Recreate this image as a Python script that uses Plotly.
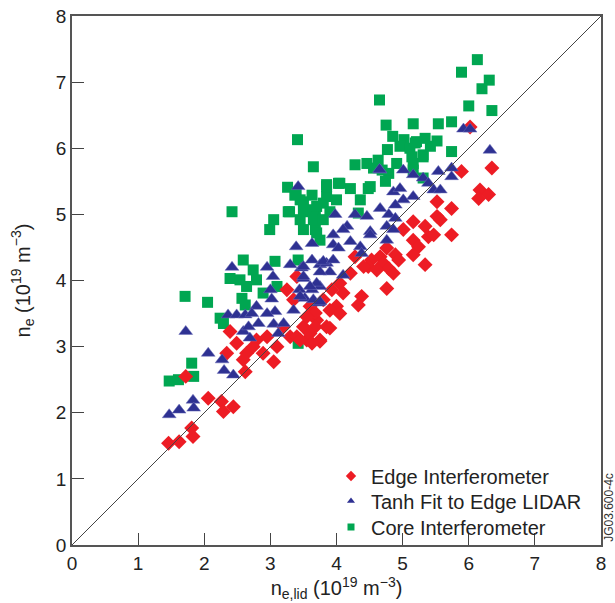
import plotly.graph_objects as go

# Edge Interferometer (red diamonds)
edge_x = [1.46, 1.62, 1.81, 1.83, 1.72, 2.06, 2.26, 2.29, 2.44,
          2.39, 3.25, 3.40, 3.05, 2.62,
          2.49, 2.64, 2.79, 2.95, 3.10, 2.89, 2.59, 2.34, 2.74, 3.20, 3.30,
          3.35, 3.60, 3.80, 3.70, 3.50, 3.85, 3.55, 3.75, 3.40, 3.68,
          6.02, 5.89, 6.35, 6.17, 6.30, 6.15,
          5.52, 5.74, 5.52, 5.57, 5.16, 5.34, 5.01, 5.39, 5.74, 5.47,
          5.16, 5.24, 5.16, 5.34,
          4.76, 4.89, 4.94, 4.66, 4.53, 4.48, 4.71, 4.79, 4.86, 4.61,
          4.28, 4.41, 4.76, 4.38, 4.33,
          4.21, 4.05, 4.10, 3.93, 4.00,
          3.90, 4.05, 3.90, 3.68, 3.60, 3.75, 3.63, 3.45, 3.55]
edge_y = [1.54, 1.56, 1.77, 1.64, 2.55, 2.22, 2.17, 2.02, 2.09,
          3.23, 3.86, 4.06, 2.77, 2.62,
          3.05, 2.90, 3.10, 3.15, 3.00, 2.90, 2.80, 2.90, 3.00, 3.30, 3.15,
          3.71, 3.61, 3.71, 3.40, 3.30, 3.30, 3.10, 3.10, 3.15, 3.51,
          6.32, 5.65, 5.70, 5.37, 5.30, 5.24,
          5.19, 5.09, 4.97, 4.92, 4.89, 4.82, 4.77, 4.66, 4.69, 4.69,
          4.61, 4.51, 4.39, 4.24,
          4.49, 4.39, 4.31, 4.36, 4.31, 4.21, 4.26, 4.18, 4.11, 4.16,
          4.36, 4.21, 3.88, 3.76, 3.63,
          4.11, 3.96, 3.81, 3.86, 3.61,
          3.55, 3.50, 3.28, 3.30, 3.20, 3.08, 3.05, 3.10, 3.45]

# Tanh Fit to Edge LIDAR (blue triangles)
tanh_x = [3.42, 3.39, 3.63, 2.42, 2.95, 3.04, 3.30, 3.47, 3.63, 3.75, 3.85, 3.50,
          3.00, 3.02, 3.44, 3.63, 3.75, 3.52, 3.73, 3.35, 2.79, 3.07, 2.95, 2.36,
          2.49, 2.62, 2.72, 2.82, 3.05, 3.20, 2.59, 2.67, 2.69, 3.12, 1.72, 2.06,
          2.27, 2.30, 2.44, 1.83, 1.84, 1.47, 1.62,
          5.92, 6.02, 6.32, 4.66, 5.01, 5.16, 5.31, 5.54, 5.74, 5.74, 5.39, 5.47,
          5.57, 4.86, 4.96, 5.16, 5.01, 4.89, 4.66, 4.46, 4.28, 3.98, 4.79, 4.89,
          4.76, 4.86, 4.51, 4.51, 4.16, 3.95, 4.10, 4.76, 3.95, 4.03, 4.21, 4.36,
          4.38, 3.80, 3.95, 3.90, 4.10, 3.70, 3.60, 3.50, 3.50, 3.75, 3.65, 3.75,
          3.45, 4.65]
tanh_y = [5.42, 4.51, 4.56, 4.20, 4.20, 4.06, 4.24, 4.19, 4.31, 4.24, 4.26, 4.03,
          3.86, 3.72, 3.86, 3.86, 3.91, 3.73, 3.66, 3.55, 3.61, 3.53, 3.50, 3.48,
          3.48, 3.48, 3.50, 3.35, 3.34, 3.35, 3.23, 3.30, 3.13, 3.20, 3.23, 2.90,
          2.80, 2.64, 2.57, 2.19, 2.07, 1.97, 2.04,
          6.29, 6.29, 5.97, 5.67, 5.67, 5.60, 5.55, 5.65, 5.70, 5.57, 5.47, 5.37,
          5.37, 5.34, 5.39, 5.27, 5.22, 5.14, 5.09, 4.97, 5.00, 5.00, 5.00, 4.94,
          4.82, 4.77, 4.74, 4.69, 4.82, 4.69, 4.77, 4.61, 4.54, 4.49, 4.59, 4.51,
          4.41, 4.29, 4.31, 4.13, 4.08, 3.96, 3.91, 4.21, 4.06, 4.13, 3.71, 3.68,
          3.76, 5.68]

# Core Interferometer (green squares)
core_x = [3.26, 2.42, 3.05, 2.99, 3.39, 3.63, 3.50, 3.80, 3.29, 3.50, 3.68, 3.50,
          3.68, 3.75, 2.59, 2.74, 2.39, 2.54, 2.64, 2.79, 3.07, 3.10, 2.89, 2.57,
          2.62, 2.24, 2.29, 1.71, 2.05, 1.81, 1.84, 1.47, 1.61, 3.42, 3.42,
          4.75, 5.16, 5.54, 5.74, 4.85, 5.02, 5.19, 5.34, 5.52, 4.77, 4.96, 5.11,
          5.31, 5.74, 3.65, 4.28, 4.46, 4.56, 4.69, 4.79, 4.91, 5.16, 5.16, 5.31,
          4.74, 3.85, 4.03, 4.21, 4.51, 3.85, 4.00, 4.36, 3.45, 3.50, 3.65, 3.45,
          3.65, 3.70, 3.80, 4.33,
          6.13, 5.89, 6.31, 6.20, 6.00, 6.35, 5.42, 5.31,
          4.65, 3.41, 5.21, 4.63, 5.14, 3.37, 3.85, 4.05, 4.48, 3.27, 3.70, 3.90]
core_y = [5.41, 5.04, 4.92, 4.77, 5.32, 5.29, 5.19, 5.17, 5.04, 5.04, 5.02, 4.77,
          4.77, 4.61, 4.31, 4.16, 4.03, 4.01, 3.91, 4.01, 4.29, 3.91, 3.81, 3.73,
          3.63, 3.43, 3.35, 3.76, 3.67, 2.75, 2.55, 2.48, 2.50, 4.31, 3.05,
          6.35, 6.37, 6.37, 6.40, 6.18, 6.13, 6.08, 6.15, 6.11, 5.98, 6.03, 6.00,
          5.90, 5.95, 5.72, 5.75, 5.77, 5.70, 5.67, 5.62, 5.77, 5.77, 5.67, 5.55,
          5.50, 5.45, 5.47, 5.39, 5.42, 5.27, 5.22, 5.22, 5.22, 5.07, 5.07, 4.92,
          4.92, 4.72, 4.92, 5.02,
          7.34, 7.15, 7.03, 6.90, 6.64, 6.57, 6.03, 5.87,
          6.73, 6.13, 6.10, 5.82, 5.87, 5.29, 5.42, 5.47, 5.39, 5.04, 5.12, 5.04]

diag = [0, 8]
ticks = [0, 1, 2, 3, 4, 5, 6, 7, 8]

RED = "#ED1C24"
BLUE = "#2E3192"
GREEN = "#00A651"
FONT = "Liberation Sans, Arial, Helvetica, sans-serif"

fig = go.Figure()
fig.add_trace(go.Scatter(x=core_x, y=core_y, mode="markers", showlegend=False,
                         marker=dict(symbol="square", size=11, color=GREEN, line=dict(width=0))))
fig.add_trace(go.Scatter(x=edge_x, y=edge_y, mode="markers", showlegend=False,
                         marker=dict(symbol="diamond", size=11.5, color=RED, line=dict(width=0))))
fig.add_trace(go.Scatter(x=tanh_x, y=tanh_y, mode="markers", showlegend=False,
                         marker=dict(symbol="triangle-up", size=12, color=BLUE,
                                     line=dict(width=0.5, color="#6A6CB8"))))
fig.add_trace(go.Scatter(x=diag, y=diag, mode="lines", showlegend=False,
                         line=dict(color="#444444", width=1), hoverinfo="skip"))

# legend entries (small symbols, as in the reference), one legend per row
legend_rows = [("Edge Interferometer", "diamond", RED, 8, "legend"),
               ("Tanh Fit to Edge LIDAR", "triangle-up", BLUE, 7, "legend2"),
               ("Core Interferometer", "square", GREEN, 7, "legend3")]
for name, sym, col, sz, lg in legend_rows:
    fig.add_trace(go.Scatter(x=[None], y=[None], mode="markers", name=name, legend=lg,
                             marker=dict(symbol=sym, size=sz, color=col, line=dict(width=0))))

axis_common = dict(range=[0, 8], tickvals=ticks, ticks="inside", ticklen=12, tickwidth=1,
                   tickcolor="#444", showline=True, linecolor="#555", linewidth=1.6,
                   mirror=True, showgrid=False, zeroline=False, automargin=False,
                   tickfont=dict(family=FONT, size=19, color="#222"))

leg_common = dict(xanchor="left", yanchor="middle", bgcolor="rgba(0,0,0,0)",
                  borderwidth=0, font=dict(family=FONT, size=20, color="#222"),
                  itemsizing="trace")

fig.update_layout(
    width=615, height=603,
    margin=dict(l=72, r=14, t=16, b=58),
    paper_bgcolor="white", plot_bgcolor="white",
    font=dict(family=FONT, color="#222"),
    xaxis=dict(**axis_common,
               title=dict(text="n<sub>e,lid</sub> (10<sup>19</sup> m<sup>\u22123</sup>)",
                          font=dict(family=FONT, size=20, color="#222"), standoff=2)),
    yaxis=dict(**axis_common,
               title=dict(text="n<sub>e</sub> (10<sup>19</sup> m<sup>\u22123</sup>)",
                          font=dict(family=FONT, size=20, color="#222"), standoff=20)),
    legend=dict(x=0.4896, y=0.1305, **leg_common),
    legend2=dict(x=0.4896, y=0.0832, **leg_common),
    legend3=dict(x=0.4896, y=0.0340, **leg_common),
    showlegend=True,
)
fig.add_annotation(text="JG03.600-4c", xref="paper", yref="paper",
                   x=1.015, y=0.072, xanchor="center", yanchor="middle",
                   showarrow=False, textangle=-90,
                   font=dict(family=FONT, size=12, color="#333"))

# remove the page's default 8px body margin so the figure sits at the window's corner
fig.write_html("out.html", config={"displayModeBar": False},
               post_script="document.body.style.margin='0px';document.body.style.overflow='hidden';")
